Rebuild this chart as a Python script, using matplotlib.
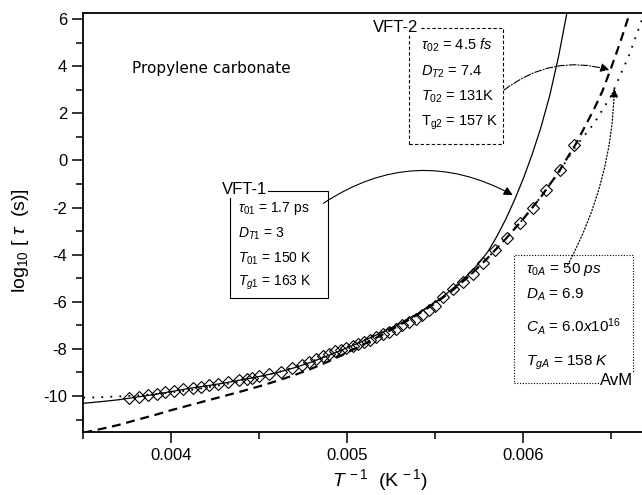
import matplotlib

matplotlib.use('Agg')
import matplotlib.pyplot as plt
from matplotlib.patches import Rectangle
from matplotlib.ticker import MultipleLocator, FormatStrFormatter

plt.rcParams['font.family'] = ['Liberation Sans', 'DejaVu Sans']
plt.rcParams['axes.unicode_minus'] = False
plt.rcParams['mathtext.fontset'] = 'custom'
plt.rcParams['mathtext.rm'] = 'Liberation Sans'
plt.rcParams['mathtext.it'] = 'Liberation Sans:italic'
plt.rcParams['mathtext.bf'] = 'Liberation Sans:bold'

# measured points (diamonds): 1/T in K^-1, log10(tau / s)
inv_T = [0.003762, 0.003818, 0.003870, 0.003917, 0.003964, 0.004017, 0.004068,
         0.004121, 0.004167, 0.004216, 0.004267, 0.004324, 0.004387, 0.004428,
         0.004457, 0.004498, 0.004555, 0.004623, 0.004688, 0.004741, 0.004784,
         0.004822, 0.004860, 0.004895, 0.004930, 0.004962, 0.004995, 0.005030,
         0.005062, 0.005095, 0.005130, 0.005165, 0.005200, 0.005238, 0.005275,
         0.005312, 0.005350, 0.005388, 0.005425, 0.005462, 0.005500, 0.005545,
         0.005602, 0.005659, 0.005716, 0.005773, 0.005839, 0.005909, 0.005981,
         0.006055, 0.006129, 0.006210, 0.006290]
log_tau = [-10.10, -10.03, -9.97, -9.92, -9.85, -9.79, -9.72,
           -9.65, -9.60, -9.55, -9.49, -9.42, -9.32, -9.28,
           -9.22, -9.17, -9.08, -8.97, -8.82, -8.68, -8.56,
           -8.44, -8.32, -8.21, -8.11, -8.04, -7.97, -7.89,
           -7.80, -7.72, -7.62, -7.50, -7.38, -7.27, -7.14,
           -7.00, -6.86, -6.72, -6.55, -6.37, -6.18, -5.80,
           -5.45, -5.17, -4.83, -4.37, -3.80, -3.28, -2.67,
           -2.00, -1.27, -0.42, 0.65]

# VFT-1 fit (solid)
x_vft1 = [0.0035, 0.0036, 0.0037, 0.0038, 0.0039, 0.0040, 0.0041, 0.0042, 0.0043,
          0.0044, 0.0045, 0.0046, 0.0047, 0.0048, 0.0049, 0.0050, 0.0051, 0.0052,
          0.0053, 0.0054, 0.0055, 0.00555, 0.0056, 0.00565, 0.0057, 0.00575, 0.0058,
          0.00585, 0.0059, 0.00595, 0.0060, 0.00605, 0.0061, 0.00615, 0.0062, 0.00625]
y_vft1 = [-10.31, -10.24, -10.16, -10.05, -9.94, -9.81, -9.68, -9.57, -9.45,
          -9.31, -9.17, -9.01, -8.80, -8.55, -8.26, -7.95, -7.63, -7.29,
          -6.92, -6.50, -6.02, -5.74, -5.43, -5.10, -4.75, -4.34, -3.86,
          -3.22, -2.50, -1.68, -0.77, 0.25, 1.40, 2.75, 4.40, 6.35]

# VFT-2 fit (dashed)
x_vft2 = [0.0035, 0.0036, 0.0037, 0.0038, 0.0039, 0.0040, 0.0041, 0.0042, 0.0043,
          0.0044, 0.0045, 0.0046, 0.0047, 0.0048, 0.0049, 0.0050, 0.0051, 0.0052,
          0.0053, 0.0054, 0.0055, 0.0056, 0.0057, 0.0058, 0.0059, 0.0060, 0.0061,
          0.0062, 0.0063, 0.0064, 0.00645, 0.0065, 0.00655, 0.0066, 0.00663]
y_vft2 = [-11.56, -11.40, -11.23, -11.02, -10.82, -10.60, -10.40, -10.20, -10.00,
          -9.80, -9.59, -9.36, -9.11, -8.83, -8.51, -8.15, -7.78, -7.39,
          -6.98, -6.54, -6.06, -5.50, -4.86, -4.12, -3.33, -2.48, -1.55,
          -0.50, 0.72, 2.15, 2.95, 3.95, 5.00, 6.15, 6.90]

# AvM fit (dotted)
x_avm = [0.0035, 0.0036, 0.0037, 0.0038, 0.0039, 0.0040, 0.0041, 0.0042, 0.0043,
         0.0044, 0.0045, 0.0046, 0.0047, 0.0048, 0.0049, 0.0050, 0.0051, 0.0052,
         0.0053, 0.0054, 0.0055, 0.0056, 0.0057, 0.0058, 0.0059, 0.0060, 0.0061,
         0.0062, 0.0063, 0.0064, 0.0065, 0.0066, 0.0067]
y_avm = [-10.07, -10.05, -10.02, -9.98, -9.92, -9.85, -9.76, -9.64, -9.51,
         -9.36, -9.19, -9.00, -8.78, -8.53, -8.24, -7.94, -7.62, -7.28,
         -6.92, -6.50, -6.04, -5.48, -4.86, -4.12, -3.33, -2.48, -1.55,
         -0.52, 0.62, 1.55, 2.75, 4.45, 6.50]

fig = plt.figure(figsize=(6.42, 4.95), dpi=100)
ax = fig.add_axes([0.1298, 0.1279, 0.8702, 0.8452])

ax.plot(x_vft1, y_vft1, color='black', lw=0.9, zorder=3)
ax.plot(x_vft2, y_vft2, color='black', lw=1.6, linestyle=(0, (4, 2.6)), zorder=3)
ax.plot(x_avm, y_avm, color='black', lw=1.3, linestyle=(0, (1, 4)), zorder=3)
ax.plot(inv_T, log_tau, linestyle='none', marker='D', markersize=5.8,
        mfc='none', mec='black', mew=0.8, zorder=4)

ax.set_xlim(0.0035, 0.0066744)
ax.set_ylim(-11.515, 6.244)
ax.xaxis.set_major_locator(MultipleLocator(0.001))
ax.xaxis.set_minor_locator(MultipleLocator(0.0005))
ax.xaxis.set_major_formatter(FormatStrFormatter('%.3f'))
ax.yaxis.set_major_locator(MultipleLocator(2))
ax.yaxis.set_minor_locator(MultipleLocator(1))
ax.tick_params(which='major', direction='out', length=8, width=1.1, labelsize=12,
               top=False, right=False)
ax.tick_params(which='minor', direction='out', length=5, width=1.1,
               top=False, right=False)
ax.spines['right'].set_visible(False)
for s in ['left', 'bottom', 'top']:
    ax.spines[s].set_linewidth(1.3)

fig.text(0.0327, 0.515, r'log$_{10}$ [ $\tau$  (s)]', rotation=90,
         ha='center', va='center', fontsize=14)
fig.text(0.592, 0.030, r'$T^{\,-1}$  (K$^{\,-1}$)', ha='center', va='center',
         fontsize=14)

ax.text(0.0866, 0.869, 'Propylene carbonate', transform=ax.transAxes,
        ha='left', va='center', fontsize=11, family='DejaVu Sans')

# VFT-1 box
ax.add_patch(Rectangle((0.2626, 0.3188), 0.1759, 0.2572, transform=ax.transAxes,
                       fill=False, ec='black', lw=0.8, zorder=5))
ax.text(0.2477, 0.578, 'VFT-1', transform=ax.transAxes, ha='left', va='center',
        fontsize=12, zorder=6, bbox=dict(fc='white', ec='none', pad=0.5))
for yy, s in zip([0.534, 0.4725, 0.4144, 0.3547],
                 [r'$\tau_{\mathit{01}}$ = 1.7 ps', r'$D_{\mathit{T1}}$ = 3',
                  r'$T_{\mathit{01}}$ = 150 K', r'$T_{\mathit{g1}}$ = 163 K']):
    ax.text(0.2774, yy, s, transform=ax.transAxes, ha='left', va='center',
            fontsize=10, zorder=6)

# VFT-2 box
ax.add_patch(Rectangle((0.5835, 0.6876), 0.1672, 0.2766, transform=ax.transAxes,
                       fill=False, ec='black', lw=0.8, ls=(0, (3, 2)), zorder=5))
ax.text(0.518, 0.967, 'VFT-2', transform=ax.transAxes, ha='left', va='center',
        fontsize=12, zorder=6, bbox=dict(fc='white', ec='none', pad=0.5))
for yy, s in zip([0.9242, 0.8604, 0.8007, 0.7371],
                 [r'$\tau_{\mathit{02}}$ = 4.5 $\mathit{fs}$', r'$D_{T2}$ = 7.4',
                  r'$T_{\mathit{02}}$ = 131K', r'T$_{\mathrm{g2}}$ = 157 K']):
    ax.text(0.6044, yy, s, transform=ax.transAxes, ha='left', va='center',
            fontsize=10.5, zorder=6)

# AvM box
ax.add_patch(Rectangle((0.7714, 0.1157), 0.2130, 0.3066, transform=ax.transAxes,
                       fill=False, ec='black', lw=0.8, ls=(0, (1, 1.5)), zorder=5))
for yy, s in zip([0.3865, 0.3267, 0.251, 0.1635],
                 [r'$\tau_{\mathit{0A}}$ = 50 $\mathit{ps}$', r'$D_A$ = 6.9',
                  r'$C_A$ = $\mathit{6.0x10^{16}}$', r'$T_{\mathit{gA}}$ = $\mathit{158\ K}$']):
    ax.text(0.7924, yy, s, transform=ax.transAxes, ha='left', va='center',
            fontsize=11, zorder=6)
ax.text(0.9836, 0.1212, 'AvM', transform=ax.transAxes, ha='right', va='center',
        fontsize=12, zorder=6, bbox=dict(fc='white', ec='none', pad=0.5))

# arrows from the boxes to the curves
ax.annotate('', xy=(0.00594, -1.47), xytext=(0.004864, -1.82),
            arrowprops=dict(arrowstyle='-|>', color='black', lw=0.8,
                            mutation_scale=13, shrinkA=0, shrinkB=0,
                            connectionstyle='arc3,rad=-0.3'), zorder=6)
ax.annotate('', xy=(0.006489, 3.84), xytext=(0.005891, 2.99),
            arrowprops=dict(arrowstyle='-|>', color='black', lw=0.8, ls='-.',
                            mutation_scale=13, shrinkA=0, shrinkB=0,
                            connectionstyle='arc3,rad=-0.25'), zorder=6)
ax.annotate('', xy=(0.006517, 3.06), xytext=(0.006252, -4.44),
            arrowprops=dict(arrowstyle='-|>', color='black', lw=0.9, ls=':',
                            mutation_scale=13, shrinkA=0, shrinkB=0,
                            connectionstyle='arc3,rad=0.12'), zorder=6)

fig.savefig('out.png', dpi=100)
